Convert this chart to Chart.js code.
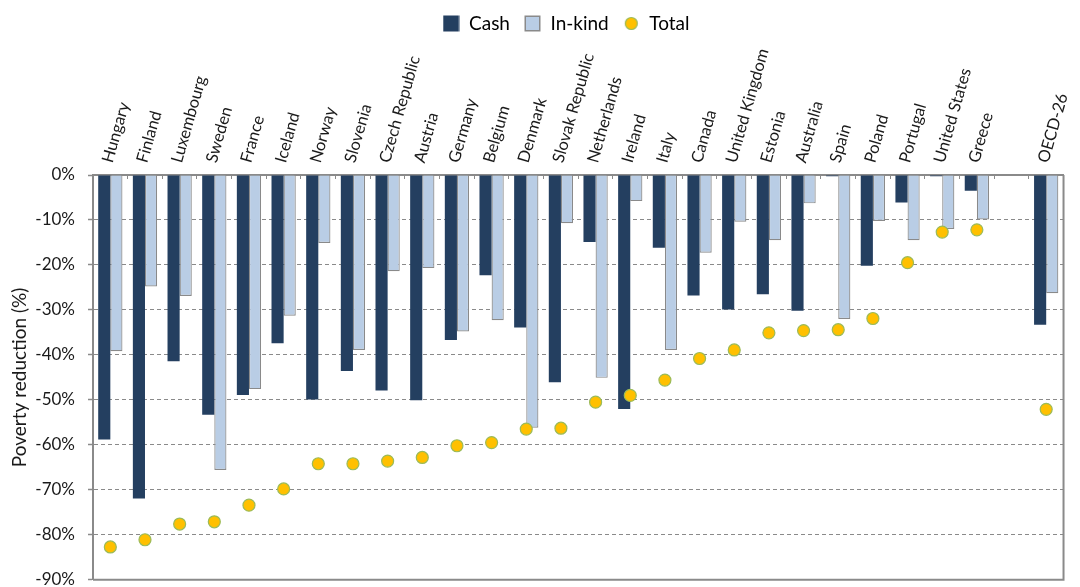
<!DOCTYPE html>
<html>
<head>
<meta charset="utf-8">
<script src="https://cdn.jsdelivr.net/npm/chart.js@4.4.0/dist/chart.umd.min.js"></script>
<style>
html,body{margin:0;padding:0;background:#fff;}
#wrap{width:1080px;height:587px;position:relative;}
</style>
</head>
<body>
<div id="wrap"><canvas id="c" width="1080" height="587"></canvas></div>
<script>
const categories = ['Hungary','Finland','Luxembourg','Sweden','France','Iceland','Norway','Slovenia','Czech Republic','Austria','Germany','Belgium','Denmark','Slovak Republic','Netherlands','Ireland','Italy','Canada','United Kingdom','Estonia','Australia','Spain','Poland','Portugal','United States','Greece','','OECD-26'];
const cashValues = [-58.8,-71.9,-41.4,-53.3,-48.9,-37.4,-49.9,-43.6,-47.9,-50.1,-36.7,-22.3,-33.9,-46.1,-14.9,-52.0,-16.2,-26.8,-29.9,-26.5,-30.2,-0.3,-20.2,-6.1,-0.3,-3.5,null,-33.3];
const inKindValues = [-39.2,-24.8,-26.9,-65.6,-47.6,-31.3,-15.1,-38.9,-21.4,-20.7,-34.8,-32.3,-56.2,-10.7,-45.1,-5.8,-38.9,-17.3,-10.4,-14.5,-6.3,-32.0,-10.2,-14.5,-12.0,-9.9,null,-26.3];
const totalValues = [-82.7,-81.1,-77.6,-77.1,-73.4,-69.8,-64.2,-64.2,-63.6,-62.8,-60.2,-59.5,-56.5,-56.3,-50.5,-49.0,-45.6,-40.8,-38.9,-35.1,-34.6,-34.4,-31.9,-19.5,-12.7,-12.2,null,-52.1];
const seriesNames = ['Cash','In-kind','Total'];
const yTickValues = [0,-10,-20,-30,-40,-50,-60,-70,-80,-90];
const yTitle = 'Poverty reduction (%)';

const CASH = '#243F60', INKIND = '#B9CDE5', INKIND_BORDER = '#8A8A8A', DOT = '#FFC000', DOT_BORDER = '#9BBB59';
const AXIS = '#8A8A8A';
const FONT = 'Lato, "Open Sans", sans-serif';

function icon(kind) {
  const cv = document.createElement('canvas');
  cv.width = 17; cv.height = 17;
  const g = cv.getContext('2d');
  if (kind === 0) { g.fillStyle = CASH; g.fillRect(0.5, 0.5, 16, 16); }
  else if (kind === 1) { g.fillStyle = INKIND; g.fillRect(1, 1, 15, 15); g.strokeStyle = INKIND_BORDER; g.lineWidth = 1.5; g.strokeRect(1.25, 1.25, 14.5, 14.5); }
  else { g.beginPath(); g.arc(8.5, 8.5, 6, 0, Math.PI * 2); g.fillStyle = DOT; g.fill(); g.strokeStyle = DOT_BORDER; g.lineWidth = 1.2; g.stroke(); }
  return cv;
}
const icons = [icon(0), icon(1), icon(2)];

const frame = {
  id: 'frame',
  afterLayout(chart) {
    const lg = chart.legend;
    if (lg) { lg.left += 30; lg.right += 30; }
  },
  afterDatasetsDraw(chart) {
    const {ctx, chartArea: a} = chart;
    ctx.save();
    ctx.strokeStyle = AXIS; ctx.lineWidth = 2;
    ctx.beginPath();
    ctx.moveTo(a.left, a.bottom); ctx.lineTo(a.right, a.bottom); ctx.lineTo(a.right, a.top);
    ctx.stroke();
    ctx.restore();
  }
};

new Chart(document.getElementById('c'), {
  type: 'bar',
  data: {
    labels: categories,
    datasets: [
      { label: seriesNames[0], data: cashValues, backgroundColor: CASH, borderWidth: 0, order: 1,
        categoryPercentage: 0.7, barPercentage: 1.0 },
      { label: seriesNames[1], data: inKindValues, backgroundColor: INKIND, borderColor: INKIND_BORDER, borderWidth: 1.2, order: 1,
        categoryPercentage: 0.7, barPercentage: 1.0 },
      { label: seriesNames[2], type: 'line', data: totalValues, showLine: false, order: 0,
        pointRadius: 6, pointHoverRadius: 6, pointBackgroundColor: DOT, pointBorderColor: DOT_BORDER, pointBorderWidth: 1.2 }
    ]
  },
  options: {
    responsive: false,
    animation: false,
    layout: { padding: { left: 0, right: 8, top: 0, bottom: 0 } },
    plugins: {
      tooltip: { enabled: false },
      legend: {
        position: 'top',
        labels: {
          usePointStyle: true,
          boxWidth: 17, boxHeight: 17,
          padding: 14,
          color: '#1a1a1a',
          font: { family: FONT, size: 19 },
          generateLabels(chart) {
            return chart.data.datasets.map((ds, i) => ({
              text: ds.label, pointStyle: icons[i], datasetIndex: i,
              fillStyle: 'transparent', strokeStyle: 'transparent', lineWidth: 0, hidden: false
            }));
          }
        }
      }
    },
    scales: {
      x: {
        position: 'top',
        offset: true,
        grid: { drawOnChartArea: false, drawTicks: true, tickLength: -4, color: AXIS, tickColor: AXIS, tickWidth: 1 },
        border: { display: true, color: AXIS, width: 2 },
        ticks: {
          autoSkip: false, minRotation: 74, maxRotation: 74, padding: 14, labelOffset: 16,
          color: '#1a1a1a', font: { family: FONT, size: 16.5 }
        },
        afterFit(scale) { scale.height = 132; }
      },
      y: {
        min: -90, max: 0,
        afterBuildTicks(scale) { scale.ticks = yTickValues.map(v => ({ value: v })); },
        grid: { color: AXIS, lineWidth: 1, drawTicks: true, tickLength: 5, tickColor: AXIS, tickWidth: 1.5 },
        border: { display: true, color: AXIS, width: 2, dash: [4, 3] },
        ticks: {
          padding: 13, color: '#1a1a1a', font: { family: FONT, size: 17 },
          callback: (v) => v + '%'
        },
        title: { display: true, text: yTitle, color: '#1a1a1a', font: { family: FONT, size: 19 }, padding: { top: 8, bottom: 0 } },
        afterFit(scale) { scale.width = 93; scale.paddingBottom = 5; scale.paddingTop = 0; }
      }
    }
  },
  plugins: [frame]
});
</script>
</body>
</html>
